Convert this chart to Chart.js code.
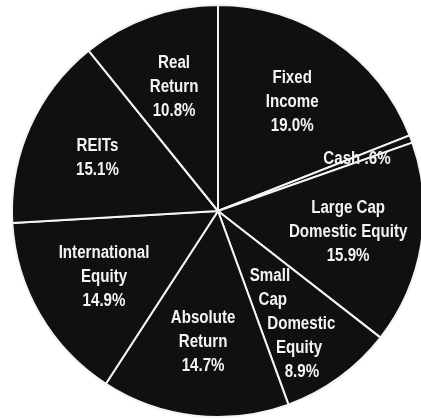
<!DOCTYPE html>
<html>
<head>
<meta charset="utf-8">
<script src="https://cdn.jsdelivr.net/npm/chart.js@4/dist/chart.umd.min.js"></script>
<style>
  html, body { margin: 0; padding: 0; background: #fff; overflow: hidden; }
  body { width: 421px; height: 420px; position: relative; }
  #wrap { position: absolute; left: 11px; top: 4px; width: 414px; height: 414px; }
</style>
</head>
<body>
<div id="wrap"><canvas id="pie" width="414" height="414"></canvas></div>
<script>
// allocation, clockwise from 12 o'clock
const categories = [
  "Fixed Income",
  "Cash",
  "Large Cap Domestic Equity",
  "Small Cap Domestic Equity",
  "Absolute Return",
  "International Equity",
  "REITs",
  "Real Return",
];
const shares = [19.0, 0.6, 15.9, 8.9, 14.7, 14.9, 15.1, 10.8];
const shareText = ["19.0%", ".6%", "15.9%", "8.9%", "14.7%", "14.9%", "15.1%", "10.8%"];
const labelLines = [
  ["Fixed", "Income"],
  ["Cash"],
  ["Large Cap", "Domestic Equity"],
  ["Small", "Cap", "Domestic", "Equity"],
  ["Absolute", "Return"],
  ["International", "Equity"],
  ["REITs"],
  ["Real", "Return"],
];

// where each label block sits, as a fraction of the radius along the mid angle
const labelRadius = [0.64, 0.72, 0.64, 0.68, 0.64, 0.64, 0.64, 0.64];
const LINE_H = 24;
const FONT = "bold 18px 'Liberation Sans', Arial, sans-serif";
const SQUEEZE = 0.84; // narrow the type horizontally

const sliceLabels = {
  id: "sliceLabels",
  afterDatasetsDraw(chart) {
    const ctx = chart.ctx;
    const arcs = chart.getDatasetMeta(0).data;
    ctx.save();
    ctx.font = FONT;
    ctx.fillStyle = "#f3f3f3";
    ctx.textBaseline = "middle";
    const put = (txt, px, py, align) => {
      ctx.save();
      ctx.translate(px, py);
      ctx.scale(SQUEEZE, 1);
      ctx.textAlign = align;
      ctx.fillText(txt, 0, 0);
      ctx.restore();
    };
    arcs.forEach((arc, i) => {
      const { x, y, startAngle, endAngle, outerRadius } = arc.getProps(
        ["x", "y", "startAngle", "endAngle", "outerRadius"], true);
      const mid = (startAngle + endAngle) / 2;
      const r = outerRadius * labelRadius[i];
      const ax = x + Math.cos(mid) * r;
      const ay = y + Math.sin(mid) * r;

      // the cash sliver is too thin, so its name and share share one line
      const lines = i === 1
        ? [labelLines[i][0] + " " + shareText[i]]
        : labelLines[i].concat([shareText[i]]);
      const top = ay - (lines.length - 1) * LINE_H / 2;

      lines.forEach((txt, k) => {
        const ly = top + k * LINE_H;
        if (i === 3) {
          // small cap: lines hug the slice's trailing edge
          const ex = x + (ly - y) / Math.tan(endAngle);
          put(txt, ex + 8, ly, "left");
        } else {
          put(txt, ax, ly, "center");
        }
      });
    });
    ctx.restore();
  },
};

new Chart(document.getElementById("pie"), {
  type: "pie",
  data: {
    labels: categories,
    datasets: [{
      data: shares,
      backgroundColor: "#110f11",
      borderColor: "#f4f4f4",
      borderWidth: 2,
    }],
  },
  options: {
    responsive: false,
    animation: false,
    layout: { padding: 0 },
    plugins: {
      legend: { display: false },
      tooltip: { enabled: false },
    },
  },
  plugins: [sliceLabels],
});
</script>
</body>
</html>
